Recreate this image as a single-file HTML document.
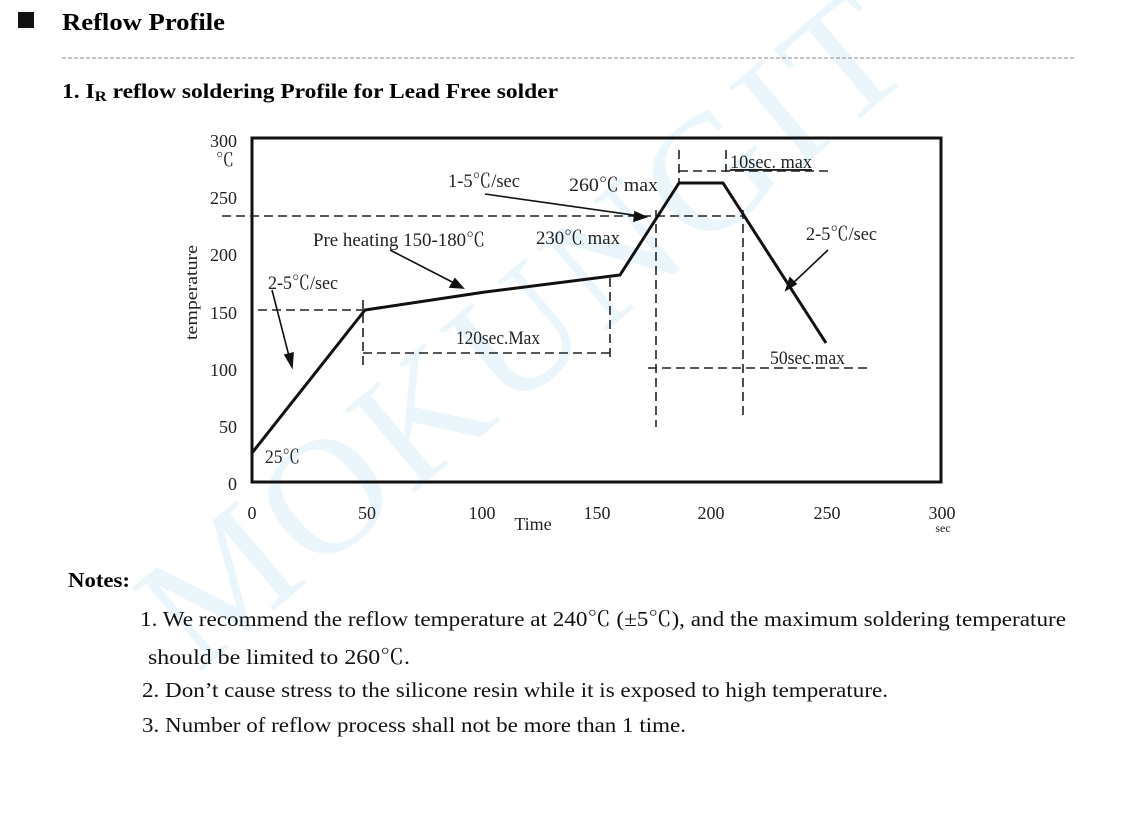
<!DOCTYPE html>
<html><head><meta charset="utf-8"><style>
html,body{margin:0;padding:0;background:#fff;}
body{width:1130px;height:838px;position:relative;overflow:hidden;}
svg text{font-family:"Liberation Serif","Noto Serif CJK SC",serif;}
</style></head><body>
<svg width="1130" height="838" style="position:absolute;left:0;top:0">
<text x="560" y="370" font-size="165" fill="#ebf6fc" text-anchor="middle" transform="rotate(-40 560 370)" letter-spacing="6">MOKUNGIT</text>
<rect x="18" y="12" width="16" height="16" fill="#111"/>
<text x="62" y="30" font-size="24" font-weight="bold" textLength="163" lengthAdjust="spacingAndGlyphs">Reflow Profile</text>
<line x1="62" y1="58" x2="1075" y2="58" stroke="#888" stroke-width="1" stroke-dasharray="4,2"/>
<text x="62" y="98" font-size="21" font-weight="bold" textLength="496" lengthAdjust="spacingAndGlyphs">1.  I<tspan font-size="15" dy="3">R</tspan><tspan dy="-3"> reflow soldering Profile for Lead Free solder</tspan></text>
<rect x="252" y="138" width="689" height="344" fill="none" stroke="#111" stroke-width="3"/>
<g font-size="18" fill="#222" text-anchor="end">
<text x="237" y="147">300</text><text x="234" y="166">℃</text>
<text x="237" y="204">250</text><text x="237" y="261">200</text><text x="237" y="319">150</text>
<text x="237" y="376">100</text><text x="237" y="433">50</text><text x="237" y="490">0</text>
</g>
<text transform="translate(197 340) rotate(-90)" font-size="17" fill="#222" textLength="95" lengthAdjust="spacingAndGlyphs">temperature</text>
<g font-size="18" fill="#222" text-anchor="middle">
<text x="252" y="519">0</text><text x="367" y="519">50</text><text x="482" y="519">100</text>
<text x="597" y="519">150</text><text x="711" y="519">200</text><text x="827" y="519">250</text>
<text x="942" y="519">300</text><text x="943" y="532" font-size="12">sec</text>
<text x="533" y="530">Time</text>
</g>
<g stroke="#222" stroke-width="1.6" stroke-dasharray="9,5" fill="none">
<line x1="222" y1="216" x2="743" y2="216"/>
<line x1="258" y1="310" x2="365" y2="310"/>
<line x1="363" y1="300" x2="363" y2="368"/>
<line x1="363" y1="353" x2="612" y2="353"/>
<line x1="610" y1="278" x2="610" y2="362"/>
<line x1="656" y1="210" x2="656" y2="427"/>
<line x1="743" y1="210" x2="743" y2="420"/>
<line x1="648" y1="368" x2="870" y2="368"/>
<line x1="679" y1="150" x2="679" y2="183"/>
<line x1="726" y1="150" x2="726" y2="172"/>
<line x1="679" y1="171" x2="828" y2="171"/>
</g>
<polyline points="252,453 365,310 485,292 620,275 679,183 723,183 826,343" fill="none" stroke="#111" stroke-width="3"/>
<g stroke="#111" stroke-width="1.6" fill="#111">
<line x1="272" y1="290" x2="290" y2="360"/><polygon points="292,367 285,355 293,353"/>
<line x1="390" y1="250" x2="458" y2="285"/><polygon points="463,288 450,287 455,279"/>
<line x1="485" y1="194" x2="640" y2="216"/><polygon points="646,217 634,221 635,212"/>
<line x1="828" y1="250" x2="791" y2="285"/><polygon points="786,290 790,278 796,284"/>
</g>
<g font-size="19" fill="#222">
<text x="448" y="187" textLength="72" lengthAdjust="spacingAndGlyphs">1-5℃/sec</text>
<text x="569" y="191" textLength="89" lengthAdjust="spacingAndGlyphs">260℃  max</text>
<text x="730" y="168" textLength="82" lengthAdjust="spacingAndGlyphs" text-decoration="underline">10sec. max</text>
<text x="313" y="246" textLength="172" lengthAdjust="spacingAndGlyphs">Pre heating  150-180℃</text>
<text x="536" y="244" textLength="84" lengthAdjust="spacingAndGlyphs">230℃  max</text>
<text x="806" y="240" textLength="71" lengthAdjust="spacingAndGlyphs">2-5℃/sec</text>
<text x="268" y="289" textLength="70" lengthAdjust="spacingAndGlyphs">2-5℃/sec</text>
<text x="456" y="344" textLength="84" lengthAdjust="spacingAndGlyphs">120sec.Max</text>
<text x="770" y="364" textLength="75" lengthAdjust="spacingAndGlyphs">50sec.max</text>
<text x="265" y="463" textLength="35" lengthAdjust="spacingAndGlyphs">25℃</text>
</g>
<text x="68" y="587" font-size="21" font-weight="bold" textLength="62" lengthAdjust="spacingAndGlyphs">Notes:</text>
<g font-size="21" fill="#111">
<text x="140" y="626" textLength="926" lengthAdjust="spacingAndGlyphs">1. We recommend the reflow temperature at 240℃  (±5℃), and the maximum soldering temperature</text>
<text x="148" y="664" textLength="262" lengthAdjust="spacingAndGlyphs">should be limited to 260℃.</text>
<text x="142" y="697" textLength="746" lengthAdjust="spacingAndGlyphs">2. Don’t cause stress to the silicone resin while it is exposed to high temperature.</text>
<text x="142" y="732" textLength="544" lengthAdjust="spacingAndGlyphs">3. Number of reflow process shall not be more than 1 time.</text>
</g>
</svg>
</body></html>
